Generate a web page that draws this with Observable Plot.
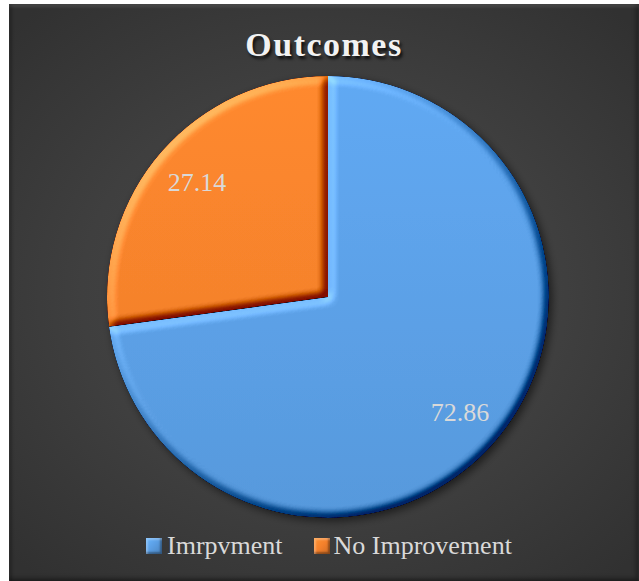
<!DOCTYPE html>
<html>
<head>
<meta charset="utf-8">
<script src="https://cdn.jsdelivr.net/npm/d3@7"></script>
<script src="https://cdn.jsdelivr.net/npm/@observablehq/plot@0.6"></script>
<style>
html, body { margin: 0; padding: 0; background: #ffffff; width: 639px; height: 581px; overflow: hidden; }
#panel { position: absolute; left: 9px; top: 4px; width: 630px; height: 577px;
  background: radial-gradient(ellipse 70% 65% at 50% 50%, #4a4a4a 0%, #3f3f3f 55%, #313131 100%);
  box-shadow: inset 0 3px 3px rgba(255,255,255,0.10), inset 3px 0 3px rgba(0,0,0,0.25), inset -3px -3px 4px rgba(0,0,0,0.35); }
#title { position: absolute; left: 9px; width: 630px; top: 28px; text-align: center;
  font-family: "Liberation Serif", serif; font-weight: bold; font-size: 34px; line-height: 34px;
  letter-spacing: 1.5px; color: #f2f2f2; text-shadow: 2px 3px 3px rgba(0,0,0,0.75); }
#chart { position: absolute; left: 9px; top: 66px; }
#legend { position: absolute; left: 146px; top: 533px; height: 26px; display: flex; align-items: center;
  font-family: "Liberation Serif", serif; font-size: 26px; line-height: 26px; color: #d9d9d9; }
.sw { width: 16px; height: 16px; }
</style>
</head>
<body>
<div id="panel"></div>
<div id="title">Outcomes</div>
<div id="chart"></div>
<div id="legend"></div>
<script>
// ---- data ----
const categories = ["Imrpvment", "No Improvement"];
const values = [72.86, 27.14];
const valueLabels = ["72.86", "27.14"];
const colors = ["#5a9de2", "#f4802b"];

const data = categories.map((c, i) => ({ category: c, value: values[i], label: valueLabels[i] }));
const arcs = d3.pie().sort(null).value(d => d.value)(data);

let colorScale = null;
try { colorScale = Plot.scale({ color: { type: "ordinal", domain: categories, range: colors } }); } catch (e) { colorScale = null; }
const colorOf = c => colorScale ? colorScale.apply(c) : colors[categories.indexOf(c)];

// label positions (unit circle coordinates, y up)
const labelR = 0.79;
const labelData = arcs.map(a => {
  const m = (a.startAngle + a.endAngle) / 2;
  return { x: labelR * Math.sin(m), y: labelR * Math.cos(m), label: a.data.label };
});

const W = 630, H = 462;

function pieMark(index, scales, vals, dims) {
  const sx = scales && scales.x ? scales.x : (v => 98 + (v + 1) * 221);
  const sy = scales && scales.y ? scales.y : (v => 10 + (1 - v) * 221);
  const cx = sx(0), cy = sy(0);
  const r = Math.abs(sx(1) - sx(0));
  const g = d3.create("svg:g");
  const defs = g.append("defs");
  arcs.forEach((a, i) => {
    const base = d3.color(colorOf(a.data.category));
    const grad = defs.append("linearGradient").attr("id", "pg" + i)
      .attr("gradientUnits", "userSpaceOnUse")
      .attr("x1", 0).attr("y1", -r).attr("x2", 0).attr("y2", r);
    grad.append("stop").attr("offset", "0%").attr("stop-color", base.brighter(0.2).formatHex());
    grad.append("stop").attr("offset", "100%").attr("stop-color", base.darker(0.08).formatHex());
  });
  const bevel = defs.append("filter").attr("id", "bevel")
    .attr("x", "-5%").attr("y", "-5%").attr("width", "110%").attr("height", "110%")
    .attr("color-interpolation-filters", "sRGB");
  bevel.append("feGaussianBlur").attr("in", "SourceAlpha").attr("stdDeviation", 4).attr("result", "blur");
  const dl = bevel.append("feDiffuseLighting").attr("in", "blur").attr("surfaceScale", 7)
    .attr("diffuseConstant", 1).attr("lighting-color", "#ffffff").attr("result", "light");
  dl.append("feDistantLight").attr("azimuth", 225).attr("elevation", 45);
  bevel.append("feComposite").attr("in", "light").attr("in2", "SourceAlpha").attr("operator", "in").attr("result", "lightIn");
  bevel.append("feComposite").attr("in", "SourceGraphic").attr("in2", "lightIn").attr("operator", "arithmetic")
    .attr("k1", 0).attr("k2", 1).attr("k3", 0.65).attr("k4", -0.46);

  const shadow = defs.append("filter").attr("id", "pieShadow")
    .attr("x", "-10%").attr("y", "-10%").attr("width", "120%").attr("height", "120%");
  shadow.append("feDropShadow").attr("dx", 3).attr("dy", 3).attr("stdDeviation", 4)
    .attr("flood-color", "#000").attr("flood-opacity", 0.55);

  const arcGen = d3.arc().innerRadius(0).outerRadius(r);
  const pg = g.append("g").attr("filter", "url(#pieShadow)").attr("transform", `translate(${cx},${cy})`);
  arcs.forEach((a, i) => {
    pg.append("path").attr("d", arcGen(a)).attr("fill", `url(#pg${i})`).attr("filter", "url(#bevel)");
  });
  return g.node();
}

const chart = Plot.plot({
  width: W,
  height: H,
  marginLeft: 98,
  marginRight: 90,
  marginTop: 10,
  marginBottom: 10,
  style: { background: "transparent", overflow: "visible" },
  x: { domain: [-1, 1], axis: null },
  y: { domain: [-1, 1], axis: null },
  marks: [
    pieMark,
    Plot.text(labelData, {
      x: "x", y: "y", text: "label",
      fill: "#d9d9d9", fontSize: 26,
      fontFamily: "Liberation Serif"
    })
  ]
});
document.getElementById("chart").appendChild(chart);

// ---- legend ----
const legend = d3.select("#legend");
categories.forEach((c, i) => {
  const col = d3.color(colorOf(c));
  legend.append("div").attr("class", "sw")
    .style("margin-left", i === 0 ? "0px" : "31px")
    .style("margin-right", i === 0 ? "5px" : "4px")
    .style("background", `linear-gradient(135deg, ${col.brighter(0.4).formatHex()} 0%, ${col.formatHex()} 50%, ${col.darker(0.5).formatHex()} 100%)`)
    .style("box-shadow", `inset 2px 2px 2px rgba(255,255,255,0.25), inset -2px -2px 2px rgba(0,0,0,0.35)`);
  legend.append("span").text(c);
});
</script>
</body>
</html>
